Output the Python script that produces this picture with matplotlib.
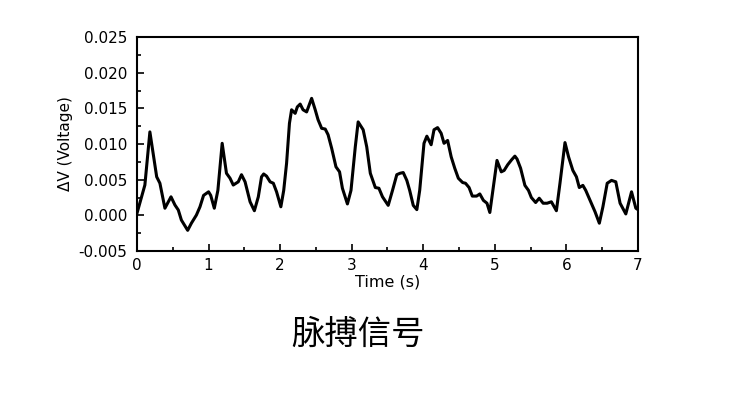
import numpy as np
import matplotlib.pyplot as plt
from matplotlib.ticker import MultipleLocator

# pulse signal
time_s = [0.0, 0.11, 0.18, 0.275, 0.32, 0.39, 0.475, 0.53, 0.577, 0.62,
          0.708, 0.76, 0.83, 0.88, 0.93, 1.0, 1.03, 1.08, 1.13, 1.19,
          1.25, 1.30, 1.345, 1.415, 1.46, 1.51, 1.58, 1.64, 1.695, 1.74,
          1.77, 1.81, 1.86, 1.905, 1.95, 2.01, 2.05, 2.09, 2.13, 2.16,
          2.21, 2.24, 2.28, 2.32, 2.37, 2.44, 2.49, 2.53, 2.58, 2.63,
          2.67, 2.72, 2.78, 2.83, 2.87, 2.94, 2.99, 3.05, 3.09, 3.16,
          3.21, 3.26, 3.33, 3.38, 3.43, 3.51, 3.57, 3.63, 3.675, 3.72,
          3.77, 3.81, 3.86, 3.91, 3.95, 4.01, 4.05, 4.11, 4.15, 4.20,
          4.25, 4.29, 4.34, 4.39, 4.44, 4.49, 4.55, 4.59, 4.64, 4.685,
          4.745, 4.79, 4.84, 4.89, 4.93, 4.98, 5.03, 5.09, 5.13, 5.18,
          5.235, 5.28, 5.31, 5.36, 5.42, 5.47, 5.51, 5.57, 5.62, 5.675,
          5.73, 5.79, 5.86, 5.91, 5.98, 6.03, 6.09, 6.14, 6.18, 6.23,
          6.27, 6.33, 6.40, 6.46, 6.51, 6.57, 6.63, 6.69, 6.75, 6.83,
          6.91, 6.97, 7.0]
voltage = [0.0003, 0.00425, 0.0117, 0.0054, 0.0045, 0.0010, 0.0026, 0.00145, 0.00075, -0.00066,
           -0.0021, -0.0011, 0.00004, 0.0012, 0.0028, 0.0033, 0.0028, 0.0010, 0.0035, 0.0101,
           0.0059, 0.0052, 0.00425, 0.0047, 0.0057, 0.0047, 0.0019, 0.00065, 0.0026, 0.0054,
           0.0058, 0.0055, 0.0047, 0.0045, 0.0033, 0.0012, 0.0035, 0.0073, 0.0129, 0.0148,
           0.0143, 0.0152, 0.0156, 0.0148, 0.0145, 0.0164, 0.0148, 0.0134, 0.0122, 0.0121,
           0.0113, 0.0094, 0.0068, 0.0061, 0.0038, 0.0016, 0.0035, 0.0096, 0.0131, 0.0120,
           0.0096, 0.0059, 0.0039, 0.0038, 0.0026, 0.0014, 0.0035, 0.0057, 0.0059, 0.0060,
           0.0049, 0.0035, 0.0014, 0.0008, 0.0035, 0.0101, 0.0111, 0.0099, 0.0120, 0.0123,
           0.0115, 0.0101, 0.0105, 0.0082, 0.0066, 0.0052, 0.0046, 0.0045, 0.0039, 0.0027,
           0.0027, 0.0030, 0.0021, 0.0017, 0.0004, 0.0040, 0.0077, 0.0061, 0.0063, 0.0071,
           0.0078, 0.0083, 0.0079, 0.0066, 0.0042, 0.0035, 0.0025, 0.0018, 0.0024, 0.0017,
           0.0017, 0.0019, 0.00065, 0.0045, 0.0102, 0.0082, 0.0063, 0.0054, 0.0039, 0.0042,
           0.0035, 0.0021, 0.0005, -0.0011, 0.0012, 0.0045, 0.0049, 0.0047, 0.0017, 0.0002,
           0.0033, 0.0010, 0.0008]

fig = plt.figure(figsize=(7.35, 3.98), dpi=100)
ax = fig.add_axes([0.1864, 0.3693, 0.6816, 0.5377])

ax.plot(time_s, voltage, color='black', lw=2.2, solid_joinstyle='round')

ax.set_xlim(0, 7)
ax.set_ylim(-0.005, 0.025)
ax.xaxis.set_major_locator(MultipleLocator(1))
ax.xaxis.set_minor_locator(MultipleLocator(0.5))
ax.yaxis.set_major_locator(MultipleLocator(0.005))
ax.yaxis.set_minor_locator(MultipleLocator(0.0025))
ax.yaxis.set_major_formatter(plt.FormatStrFormatter('%.3f'))
ax.tick_params(which='both', direction='in', top=False, right=False, width=1.2)
ax.tick_params(which='major', length=5, labelsize=11, pad=5)
ax.tick_params(axis='y', which='major', pad=7)
ax.tick_params(which='minor', length=3)
for sp in ax.spines.values():
    sp.set_linewidth(1.5)

ax.set_xlabel('Time (s)', fontsize=11.5, labelpad=1)
ax.set_ylabel('ΔV (Voltage)', fontsize=11, labelpad=4)

fig.text(0.487, 0.161, '脉搏信号', family=['Noto Sans CJK SC', 'DejaVu Sans'],
         fontsize=24, fontweight='light', ha='center', va='center')

fig.savefig('out.png', dpi=100)
